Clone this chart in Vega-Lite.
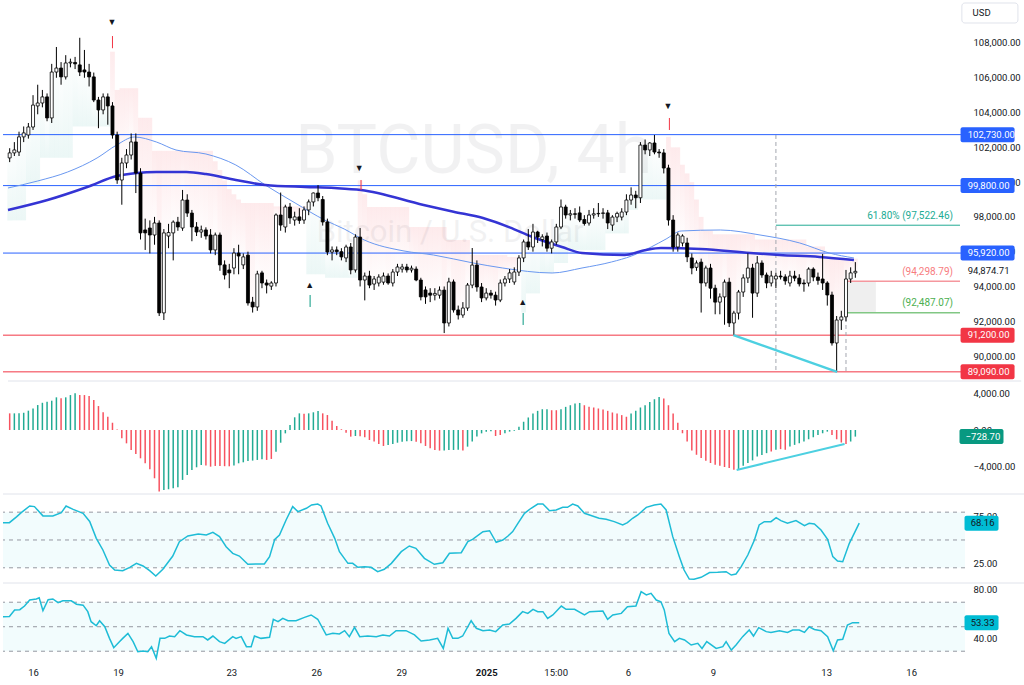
{
"$schema":"https://vega.github.io/schema/vega-lite/v6.json",
"padding":0,"background":"#ffffff","spacing":0,"bounds":"flush",
"config":{"font":"Roboto","view":{"stroke":null},"axis":{"grid":false,"ticks":false,"domain":false,"labelFont":"Roboto","labelFontSize":9.5,"labelColor":"#131722","labelOverlap":false,"labelFlush":false,"title":null},"text":{"font":"Roboto"}},
"datasets":{
"c":[
{"i":0,"o":101390,"h":101950,"l":101150,"c":101680,"s":97800,"m":1835,"u":0},
{"i":1,"o":101680,"h":102300,"l":101500,"c":101850,"s":97800,"m":1835,"u":1},
{"i":2,"o":101730,"h":102900,"l":101500,"c":102600,"s":97800,"m":1835,"u":1},
{"i":3,"o":102600,"h":103200,"l":102300,"c":102830,"s":97800,"m":1900,"u":1},
{"i":4,"o":102710,"h":103400,"l":102500,"c":103170,"s":99900,"m":2130,"u":1},
{"i":5,"o":103170,"h":105000,"l":103000,"c":104430,"s":99900,"m":2380,"u":1},
{"i":6,"o":104380,"h":105600,"l":103900,"c":104550,"s":99900,"m":2750,"u":1},
{"i":7,"o":104550,"h":105300,"l":104300,"c":104900,"s":101400,"m":3000,"u":1},
{"i":8,"o":104900,"h":105100,"l":103500,"c":103690,"s":101400,"m":3120,"u":1},
{"i":9,"o":103690,"h":106800,"l":103400,"c":106330,"s":101400,"m":3230,"u":1},
{"i":10,"o":106330,"h":107770,"l":106000,"c":106560,"s":101400,"m":3600,"u":1},
{"i":11,"o":106560,"h":106900,"l":105600,"c":106050,"s":101400,"m":3490,"u":0},
{"i":12,"o":106050,"h":107300,"l":105900,"c":106850,"s":101400,"m":3600,"u":1},
{"i":13,"o":106850,"h":107100,"l":106600,"c":106900,"s":101400,"m":3850,"u":1},
{"i":14,"o":106880,"h":107200,"l":106500,"c":106800,"s":103200,"m":4040,"u":1},
{"i":15,"o":106740,"h":108300,"l":106100,"c":106330,"s":103200,"m":3850,"u":0},
{"i":16,"o":106450,"h":107600,"l":106000,"c":106330,"s":103200,"m":3850,"u":0},
{"i":17,"o":106330,"h":106800,"l":105500,"c":106050,"s":103200,"m":3750,"u":0},
{"i":18,"o":106050,"h":106300,"l":104600,"c":104720,"s":103200,"m":3300,"u":0},
{"i":19,"o":104720,"h":104900,"l":103100,"c":104150,"s":103200,"m":2640,"u":0},
{"i":20,"o":104150,"h":105100,"l":103900,"c":104900,"s":103200,"m":1950,"u":0},
{"i":21,"o":104900,"h":105100,"l":103300,"c":104380,"s":103200,"m":1470,"u":0},
{"i":22,"o":104380,"h":104600,"l":102500,"c":102710,"s":107500,"m":800,"u":0},
{"i":23,"o":102710,"h":102900,"l":99900,"c":100120,"s":105300,"m":60,"u":0},
{"i":24,"o":100120,"h":101400,"l":98700,"c":101100,"s":105400,"m":-920,"u":0},
{"i":25,"o":101100,"h":101900,"l":100800,"c":101560,"s":105400,"m":-1470,"u":0},
{"i":26,"o":101560,"h":102800,"l":101300,"c":102310,"s":105400,"m":-2200,"u":0},
{"i":27,"o":102310,"h":102800,"l":99370,"c":100520,"s":105400,"m":-2640,"u":0},
{"i":28,"o":100520,"h":100800,"l":96700,"c":97080,"s":103700,"m":-3120,"u":0},
{"i":29,"o":97250,"h":97900,"l":96100,"c":97080,"s":103700,"m":-3670,"u":0},
{"i":30,"o":97360,"h":97800,"l":95900,"c":96960,"s":103700,"m":-4330,"u":0},
{"i":31,"o":96960,"h":98000,"l":96400,"c":97650,"s":101800,"m":-5320,"u":0},
{"i":32,"o":97650,"h":97800,"l":92300,"c":92480,"s":101800,"m":-6790,"u":0},
{"i":33,"o":92480,"h":97300,"l":92070,"c":97080,"s":101800,"m":-6600,"u":1},
{"i":34,"o":96900,"h":97600,"l":96200,"c":97100,"s":101800,"m":-6530,"u":1},
{"i":35,"o":97080,"h":97800,"l":95500,"c":97700,"s":101800,"m":-6420,"u":1},
{"i":36,"o":97700,"h":98000,"l":97200,"c":97420,"s":101800,"m":-6310,"u":1},
{"i":37,"o":97360,"h":99550,"l":97200,"c":98970,"s":101800,"m":-5500,"u":1},
{"i":38,"o":98970,"h":99300,"l":98000,"c":98220,"s":101800,"m":-4950,"u":1},
{"i":39,"o":98220,"h":98400,"l":96600,"c":97420,"s":101800,"m":-4400,"u":1},
{"i":40,"o":97420,"h":97700,"l":96900,"c":97130,"s":101800,"m":-4110,"u":1},
{"i":41,"o":97130,"h":97500,"l":96800,"c":97250,"s":101800,"m":-3850,"u":1},
{"i":42,"o":97250,"h":97400,"l":96700,"c":96900,"s":101800,"m":-3900,"u":0},
{"i":43,"o":96960,"h":97300,"l":95900,"c":96100,"s":101800,"m":-4040,"u":0},
{"i":44,"o":96100,"h":97100,"l":95800,"c":96960,"s":101200,"m":-3960,"u":0},
{"i":45,"o":96960,"h":97100,"l":94900,"c":95240,"s":100700,"m":-3960,"u":0},
{"i":46,"o":95240,"h":95500,"l":94400,"c":94660,"s":100100,"m":-3990,"u":0},
{"i":47,"o":94950,"h":95300,"l":93900,"c":94780,"s":99600,"m":-4000,"u":0},
{"i":48,"o":95060,"h":96200,"l":94700,"c":95920,"s":99300,"m":-3900,"u":1},
{"i":49,"o":95920,"h":96400,"l":94700,"c":95750,"s":99000,"m":-3670,"u":1},
{"i":50,"o":95240,"h":95900,"l":95000,"c":95700,"s":98800,"m":-3560,"u":1},
{"i":51,"o":95800,"h":96000,"l":92900,"c":93050,"s":98800,"m":-3410,"u":1},
{"i":52,"o":93100,"h":93400,"l":92500,"c":92820,"s":98800,"m":-3370,"u":1},
{"i":53,"o":92820,"h":94900,"l":92600,"c":94720,"s":98800,"m":-3300,"u":1},
{"i":54,"o":94780,"h":94900,"l":93900,"c":94200,"s":98800,"m":-3230,"u":1},
{"i":55,"o":94200,"h":94400,"l":93600,"c":94080,"s":98800,"m":-3300,"u":0},
{"i":56,"o":94020,"h":94300,"l":93800,"c":94200,"s":98800,"m":-3190,"u":0},
{"i":57,"o":94200,"h":98200,"l":94000,"c":98110,"s":98600,"m":-2390,"u":1},
{"i":58,"o":98110,"h":99400,"l":97200,"c":97530,"s":98600,"m":-1400,"u":1},
{"i":59,"o":97420,"h":98700,"l":97100,"c":98570,"s":98600,"m":-370,"u":1},
{"i":60,"o":98570,"h":98800,"l":97600,"c":97940,"s":98600,"m":550,"u":1},
{"i":61,"o":97820,"h":98300,"l":97500,"c":98000,"s":98600,"m":1400,"u":1},
{"i":62,"o":98000,"h":98500,"l":97600,"c":97800,"s":98600,"m":1835,"u":1},
{"i":63,"o":97820,"h":98600,"l":97600,"c":98400,"s":98600,"m":1800,"u":0},
{"i":64,"o":98400,"h":99000,"l":98100,"c":98860,"s":94700,"m":1835,"u":1},
{"i":65,"o":98860,"h":99400,"l":98600,"c":99375,"s":94700,"m":1950,"u":1},
{"i":66,"o":99375,"h":99830,"l":98900,"c":99100,"s":94700,"m":2090,"u":1},
{"i":67,"o":99000,"h":99200,"l":97500,"c":97710,"s":94700,"m":1835,"u":0},
{"i":68,"o":97710,"h":97900,"l":95800,"c":95980,"s":94500,"m":1650,"u":0},
{"i":69,"o":95980,"h":96300,"l":95500,"c":96100,"s":94500,"m":1030,"u":0},
{"i":70,"o":96100,"h":96300,"l":95800,"c":96000,"s":94500,"m":440,"u":0},
{"i":71,"o":96000,"h":96200,"l":95500,"c":95700,"s":94500,"m":80,"u":0},
{"i":72,"o":95640,"h":96400,"l":95400,"c":96270,"s":94500,"m":-290,"u":0},
{"i":73,"o":96270,"h":96500,"l":94700,"c":94950,"s":94500,"m":-730,"u":0},
{"i":74,"o":94950,"h":97000,"l":94800,"c":96840,"s":94500,"m":-660,"u":1},
{"i":75,"o":96840,"h":97360,"l":94000,"c":94370,"s":100100,"m":-700,"u":0},
{"i":76,"o":94370,"h":94800,"l":93200,"c":94600,"s":99300,"m":-810,"u":0},
{"i":77,"o":94600,"h":94900,"l":93900,"c":94080,"s":98570,"m":-1100,"u":0},
{"i":78,"o":94140,"h":94600,"l":93800,"c":94430,"s":98570,"m":-1280,"u":0},
{"i":79,"o":94200,"h":94700,"l":94000,"c":94540,"s":98570,"m":-1540,"u":0},
{"i":80,"o":94250,"h":94800,"l":94100,"c":94600,"s":98570,"m":-1760,"u":0},
{"i":81,"o":94600,"h":94750,"l":94100,"c":94200,"s":98570,"m":-1650,"u":1},
{"i":82,"o":94200,"h":95000,"l":94000,"c":94830,"s":98570,"m":-1540,"u":1},
{"i":83,"o":94830,"h":95300,"l":94600,"c":95120,"s":98570,"m":-1400,"u":1},
{"i":84,"o":95000,"h":95300,"l":94800,"c":95120,"s":98570,"m":-1300,"u":1},
{"i":85,"o":95120,"h":95300,"l":94800,"c":94950,"s":98570,"m":-1250,"u":1},
{"i":86,"o":94950,"h":95200,"l":94800,"c":95050,"s":97420,"m":-1220,"u":1},
{"i":87,"o":95000,"h":95150,"l":94300,"c":94370,"s":97420,"m":-1300,"u":0},
{"i":88,"o":94370,"h":94500,"l":93200,"c":93400,"s":97420,"m":-1470,"u":0},
{"i":89,"o":93800,"h":94000,"l":93000,"c":93400,"s":97420,"m":-1760,"u":0},
{"i":90,"o":93620,"h":93900,"l":93100,"c":93500,"s":97420,"m":-2020,"u":0},
{"i":91,"o":93500,"h":93900,"l":93200,"c":93600,"s":97420,"m":-2200,"u":0},
{"i":92,"o":93500,"h":94000,"l":93300,"c":93790,"s":97420,"m":-2270,"u":0},
{"i":93,"o":93790,"h":94000,"l":91320,"c":91900,"s":97420,"m":-2250,"u":1},
{"i":94,"o":91900,"h":94500,"l":91700,"c":94260,"s":96670,"m":-2200,"u":1},
{"i":95,"o":94260,"h":94400,"l":92500,"c":92650,"s":96670,"m":-2200,"u":1},
{"i":96,"o":92650,"h":92900,"l":92100,"c":92360,"s":96670,"m":-2180,"u":1},
{"i":97,"o":92360,"h":93100,"l":92200,"c":92760,"s":96670,"m":-2250,"u":0},
{"i":98,"o":92760,"h":94200,"l":92600,"c":94080,"s":96670,"m":-1835,"u":1},
{"i":99,"o":94080,"h":96210,"l":93900,"c":95230,"s":95810,"m":-1280,"u":1},
{"i":100,"o":95230,"h":95500,"l":93700,"c":93970,"s":95810,"m":-730,"u":1},
{"i":101,"o":93970,"h":94200,"l":93100,"c":93340,"s":95810,"m":-370,"u":1},
{"i":102,"o":93340,"h":93900,"l":93200,"c":93620,"s":95810,"m":-180,"u":1},
{"i":103,"o":93620,"h":93800,"l":93300,"c":93500,"s":95810,"m":-150,"u":1},
{"i":104,"o":93500,"h":93700,"l":92900,"c":93220,"s":95810,"m":-660,"u":0},
{"i":105,"o":93220,"h":94400,"l":93100,"c":94200,"s":95810,"m":-550,"u":0},
{"i":106,"o":94200,"h":94600,"l":94000,"c":94430,"s":95810,"m":-370,"u":1},
{"i":107,"o":94430,"h":95000,"l":94200,"c":94780,"s":95700,"m":-180,"u":1},
{"i":108,"o":94260,"h":95100,"l":94100,"c":94830,"s":95700,"m":-70,"u":1},
{"i":109,"o":94830,"h":95800,"l":94600,"c":95640,"s":95700,"m":360,"u":1},
{"i":110,"o":95640,"h":96700,"l":95400,"c":96560,"s":92500,"m":910,"u":1},
{"i":111,"o":96560,"h":97300,"l":96100,"c":96270,"s":93600,"m":1380,"u":1},
{"i":112,"o":96270,"h":97600,"l":96000,"c":97130,"s":93600,"m":1820,"u":1},
{"i":113,"o":97130,"h":97200,"l":96500,"c":96840,"s":93600,"m":2110,"u":1},
{"i":114,"o":96700,"h":97000,"l":96300,"c":96850,"s":94770,"m":2290,"u":1},
{"i":115,"o":96900,"h":97100,"l":96000,"c":96200,"s":94770,"m":2300,"u":1},
{"i":116,"o":96200,"h":96700,"l":95900,"c":96560,"s":94770,"m":2180,"u":0},
{"i":117,"o":96560,"h":97600,"l":96400,"c":97420,"s":95350,"m":2180,"u":0},
{"i":118,"o":97420,"h":99000,"l":97300,"c":98570,"s":95350,"m":2290,"u":1},
{"i":119,"o":98570,"h":98700,"l":97900,"c":98110,"s":95350,"m":2550,"u":1},
{"i":120,"o":98110,"h":98400,"l":97800,"c":98180,"s":96100,"m":2730,"u":1},
{"i":121,"o":98180,"h":98500,"l":97900,"c":98150,"s":96100,"m":2910,"u":1},
{"i":122,"o":98230,"h":98600,"l":97700,"c":97820,"s":96100,"m":2980,"u":1},
{"i":123,"o":97850,"h":98100,"l":97500,"c":97620,"s":96100,"m":2730,"u":0},
{"i":124,"o":97650,"h":98400,"l":97500,"c":98110,"s":96100,"m":2550,"u":0},
{"i":125,"o":98110,"h":98500,"l":97900,"c":98180,"s":96100,"m":2480,"u":0},
{"i":126,"o":98180,"h":98800,"l":98000,"c":98200,"s":96100,"m":2370,"u":0},
{"i":127,"o":98200,"h":98500,"l":97900,"c":98230,"s":96100,"m":2260,"u":0},
{"i":128,"o":98230,"h":98400,"l":97300,"c":97650,"s":97050,"m":2110,"u":0},
{"i":129,"o":97530,"h":98100,"l":97200,"c":97990,"s":97050,"m":1930,"u":0},
{"i":130,"o":97990,"h":98300,"l":97700,"c":98200,"s":97050,"m":1820,"u":0},
{"i":131,"o":97990,"h":98500,"l":97800,"c":98280,"s":97050,"m":1640,"u":0},
{"i":132,"o":98280,"h":99300,"l":98100,"c":98970,"s":97050,"m":1460,"u":0},
{"i":133,"o":98970,"h":99700,"l":98700,"c":99260,"s":98400,"m":1820,"u":1},
{"i":134,"o":99260,"h":99500,"l":98500,"c":99100,"s":98400,"m":2110,"u":1},
{"i":135,"o":99100,"h":102300,"l":98800,"c":102130,"s":99000,"m":2480,"u":1},
{"i":136,"o":102130,"h":102450,"l":101600,"c":101850,"s":99000,"m":2730,"u":1},
{"i":137,"o":101850,"h":102300,"l":101500,"c":102250,"s":99000,"m":3090,"u":1},
{"i":138,"o":102250,"h":102710,"l":101600,"c":101730,"s":99000,"m":3390,"u":1},
{"i":139,"o":101730,"h":101900,"l":101400,"c":101680,"s":99000,"m":3640,"u":1},
{"i":140,"o":101680,"h":101900,"l":100500,"c":100810,"s":99000,"m":3460,"u":0},
{"i":141,"o":100810,"h":101000,"l":97500,"c":97820,"s":102600,"m":2730,"u":0},
{"i":142,"o":97820,"h":98100,"l":96000,"c":96270,"s":102000,"m":1820,"u":0},
{"i":143,"o":96270,"h":97100,"l":96000,"c":96960,"s":102000,"m":800,"u":0},
{"i":144,"o":96500,"h":97000,"l":96300,"c":96900,"s":101000,"m":-360,"u":0},
{"i":145,"o":96500,"h":96800,"l":95400,"c":95700,"s":100500,"m":-1270,"u":0},
{"i":146,"o":95640,"h":95900,"l":94700,"c":95060,"s":100000,"m":-2260,"u":0},
{"i":147,"o":95100,"h":95500,"l":94900,"c":95350,"s":99000,"m":-2730,"u":0},
{"i":148,"o":95400,"h":95600,"l":92500,"c":94200,"s":98000,"m":-3090,"u":0},
{"i":149,"o":94200,"h":95200,"l":94000,"c":95060,"s":97200,"m":-3390,"u":0},
{"i":150,"o":95060,"h":95300,"l":93300,"c":93900,"s":97200,"m":-3640,"u":0},
{"i":151,"o":93900,"h":94100,"l":92400,"c":93100,"s":97000,"m":-3820,"u":0},
{"i":152,"o":93100,"h":93600,"l":92400,"c":93400,"s":97000,"m":-3930,"u":0},
{"i":153,"o":93400,"h":94400,"l":91800,"c":94250,"s":97000,"m":-4080,"u":0},
{"i":154,"o":94250,"h":94500,"l":91670,"c":91900,"s":97000,"m":-4190,"u":0},
{"i":155,"o":91900,"h":92600,"l":91210,"c":92470,"s":97000,"m":-4370,"u":0},
{"i":156,"o":92470,"h":93800,"l":92100,"c":93680,"s":97000,"m":-4300,"u":1},
{"i":157,"o":93680,"h":94700,"l":93400,"c":94490,"s":97000,"m":-3930,"u":1},
{"i":158,"o":94490,"h":95900,"l":94200,"c":95060,"s":97000,"m":-3640,"u":1},
{"i":159,"o":95060,"h":95300,"l":92200,"c":93620,"s":97000,"m":-3350,"u":1},
{"i":160,"o":93620,"h":95750,"l":93400,"c":95350,"s":96700,"m":-2910,"u":1},
{"i":161,"o":95350,"h":95500,"l":94500,"c":94660,"s":96700,"m":-2750,"u":1},
{"i":162,"o":94660,"h":94800,"l":93900,"c":94200,"s":96700,"m":-2550,"u":1},
{"i":163,"o":94200,"h":94900,"l":94000,"c":94600,"s":96700,"m":-2370,"u":0},
{"i":164,"o":94430,"h":94800,"l":93900,"c":94600,"s":96700,"m":-2180,"u":1},
{"i":165,"o":94600,"h":94900,"l":94400,"c":94550,"s":96700,"m":-2110,"u":0},
{"i":166,"o":94550,"h":94700,"l":94100,"c":94320,"s":96700,"m":-2180,"u":0},
{"i":167,"o":94200,"h":94900,"l":94000,"c":94600,"s":96700,"m":-1820,"u":1},
{"i":168,"o":94600,"h":94900,"l":94300,"c":94480,"s":96700,"m":-1640,"u":1},
{"i":169,"o":94480,"h":94700,"l":94000,"c":94150,"s":96700,"m":-1460,"u":1},
{"i":170,"o":94200,"h":94400,"l":93700,"c":94150,"s":96700,"m":-1270,"u":1},
{"i":171,"o":94200,"h":95100,"l":94000,"c":95000,"s":96300,"m":-1020,"u":1},
{"i":172,"o":95000,"h":95100,"l":94300,"c":94540,"s":96300,"m":-800,"u":1},
{"i":173,"o":94540,"h":94800,"l":94100,"c":94350,"s":96300,"m":-550,"u":1},
{"i":174,"o":94430,"h":95870,"l":93800,"c":94200,"s":96300,"m":-360,"u":1},
{"i":175,"o":94200,"h":94300,"l":92900,"c":93510,"s":95600,"m":-180,"u":1},
{"i":176,"o":93510,"h":93700,"l":90600,"c":90750,"s":95600,"m":-550,"u":0},
{"i":177,"o":90750,"h":92300,"l":89090,"c":92070,"s":95600,"m":-1020,"u":0},
{"i":178,"o":92070,"h":92600,"l":91500,"c":92250,"s":95600,"m":-1380,"u":0},
{"i":179,"o":92250,"h":94950,"l":92000,"c":94430,"s":95600,"m":-1530,"u":0},
{"i":180,"o":94430,"h":95100,"l":94200,"c":94780,"s":95600,"m":-1270,"u":1},
{"i":181,"o":94780,"h":95400,"l":94500,"c":94870,"s":95600,"m":-729,"u":1}
],
"mf":[{"i":-0.36,"p":99662},{"i":6,"p":100065},{"i":12.4,"p":100582},{"i":18.7,"p":101387},{"i":22.9,"p":102135},{"i":26.7,"p":102595},{"i":31.4,"p":102307},{"i":35.6,"p":101847},{"i":42,"p":101617},{"i":48.4,"p":100985},{"i":54.7,"p":99835},{"i":61.1,"p":98800},{"i":67.4,"p":97822},{"i":71.6,"p":97305},{"i":75.9,"p":96672},{"i":84.4,"p":96040},{"i":90.7,"p":95810},{"i":99.2,"p":95350},{"i":105.5,"p":95062},{"i":116.1,"p":94775},{"i":122.5,"p":95062},{"i":128.8,"p":95407},{"i":133.1,"p":95752},{"i":137.3,"p":96270},{"i":140.5,"p":96730},{"i":143.7,"p":97190},{"i":152.1,"p":97247},{"i":160.6,"p":96960},{"i":169.1,"p":96500},{"i":175.4,"p":95925},{"i":180.7,"p":95637}],
"ms":[{"i":-0.36,"p":98397},{"i":8.1,"p":98972},{"i":16.6,"p":99720},{"i":22.9,"p":100350},{"i":27.2,"p":100525},{"i":31.4,"p":100582},{"i":37.8,"p":100582},{"i":42,"p":100467},{"i":48.4,"p":100122},{"i":54.7,"p":99835},{"i":63.2,"p":99720},{"i":69.5,"p":99662},{"i":75.2,"p":99547},{"i":88.6,"p":98685},{"i":95,"p":98300},{"i":101.3,"p":97937},{"i":107,"p":97400},{"i":111.9,"p":96845},{"i":118.2,"p":96270},{"i":122.5,"p":95925},{"i":131.6,"p":95810},{"i":136.2,"p":96100},{"i":139.4,"p":96212},{"i":147.9,"p":96155},{"i":158.5,"p":95925},{"i":164.8,"p":95810},{"i":173.3,"p":95695},{"i":180.7,"p":95522}],
"lv":[{"p":102730,"k":"b"},{"p":99800,"k":"b"},{"p":95920,"k":"b"},{"p":91200,"k":"r"},{"p":89090,"k":"r"}],
"mk":[{"i":21.9,"p":109207,"t":"▼"},{"i":74.8,"p":100812,"t":"▼"},{"i":140.9,"p":104377,"t":"▼"},{"i":64.2,"p":94085,"t":"▲"},{"i":109.8,"p":93107,"t":"▲"}],
"tk":[{"i":22,"a":108400,"b":107700,"k":"r"},{"i":75.2,"a":100122,"b":99547,"k":"r"},{"i":141.2,"a":103687,"b":102997,"k":"r"},{"i":64.3,"a":93510,"b":92820,"k":"g"},{"i":109.9,"a":92475,"b":91785,"k":"g"}],
"k":[{"i":-0.36,"v":68.7},{"i":1,"v":68.7},{"i":2.5,"v":75},{"i":3.5,"v":79.5},{"i":5.3,"v":86.7},{"i":6.3,"v":86},{"i":8.1,"v":76},{"i":10.2,"v":76},{"i":12,"v":79.5},{"i":13,"v":86.7},{"i":14.5,"v":83},{"i":16.6,"v":78.8},{"i":18,"v":70},{"i":19.4,"v":51.8},{"i":20.8,"v":39.2},{"i":22.2,"v":23},{"i":23.3,"v":17.6},{"i":25,"v":16.9},{"i":26.5,"v":20.5},{"i":27.9,"v":24.8},{"i":29.3,"v":22},{"i":30.7,"v":16.9},{"i":32,"v":11.2},{"i":33.5,"v":18.4},{"i":35.6,"v":32.7},{"i":37,"v":48.2},{"i":38.8,"v":54.3},{"i":41,"v":56.5},{"i":42.7,"v":55.4},{"i":44.1,"v":58.3},{"i":45.5,"v":53.6},{"i":46.9,"v":42.8},{"i":48.3,"v":35.6},{"i":49.7,"v":32.7},{"i":51.5,"v":23.8},{"i":53.3,"v":24.1},{"i":55,"v":24.1},{"i":56.1,"v":32},{"i":57.2,"v":50.7},{"i":58.2,"v":55.4},{"i":59.6,"v":71.6},{"i":61,"v":86},{"i":62.1,"v":80.6},{"i":63.9,"v":84.2},{"i":65,"v":87.8},{"i":66.3,"v":88.8},{"i":67,"v":86.7},{"i":68.4,"v":68},{"i":69.9,"v":51.8},{"i":70.9,"v":37.4},{"i":72.7,"v":24.8},{"i":73.7,"v":24.8},{"i":74.8,"v":20.5},{"i":76.2,"v":21.2},{"i":77.6,"v":20.5},{"i":79,"v":15.8},{"i":80.4,"v":18.4},{"i":81.9,"v":24.8},{"i":84,"v":37.4},{"i":85.7,"v":43.5},{"i":87.1,"v":41},{"i":88.9,"v":30.2},{"i":91,"v":23.8},{"i":92.8,"v":25.5},{"i":94.2,"v":35.6},{"i":96.7,"v":36.3},{"i":98.1,"v":48.2},{"i":99.1,"v":50.7},{"i":101.3,"v":59},{"i":102.7,"v":60},{"i":104.1,"v":47.5},{"i":105.5,"v":50},{"i":106.6,"v":54.3},{"i":107.6,"v":59},{"i":108.7,"v":68},{"i":110.1,"v":78.8},{"i":111.5,"v":84.2},{"i":112.9,"v":88.8},{"i":114,"v":88.8},{"i":115.4,"v":81.6},{"i":116.8,"v":82.4},{"i":118.2,"v":85.2},{"i":119.2,"v":85.2},{"i":120.3,"v":88.8},{"i":121.4,"v":86.7},{"i":122.8,"v":78.8},{"i":124.5,"v":75.9},{"i":125.9,"v":73.4},{"i":127.4,"v":72.3},{"i":129.1,"v":69.8},{"i":130.9,"v":66.2},{"i":131.9,"v":68.7},{"i":133,"v":73.4},{"i":134.1,"v":77},{"i":135.9,"v":85.2},{"i":137.6,"v":87.8},{"i":139,"v":88.8},{"i":140.1,"v":82.4},{"i":141.5,"v":53.6},{"i":142.9,"v":32},{"i":143.9,"v":17.6},{"i":145,"v":7.9},{"i":146,"v":7.6},{"i":147.5,"v":9.7},{"i":149.3,"v":14.8},{"i":151,"v":15.1},{"i":152.8,"v":15.8},{"i":153.9,"v":12.2},{"i":154.9,"v":13.3},{"i":156,"v":21.2},{"i":157.4,"v":33.8},{"i":158.8,"v":50},{"i":159.8,"v":66.2},{"i":160.9,"v":69.8},{"i":162.3,"v":69.8},{"i":163.4,"v":74.1},{"i":164.4,"v":70.9},{"i":165.8,"v":68},{"i":167.6,"v":70.9},{"i":169.4,"v":65.5},{"i":170.4,"v":68},{"i":171.5,"v":67.3},{"i":172.9,"v":60.8},{"i":174.3,"v":50.7},{"i":175.4,"v":32},{"i":176.4,"v":27.3},{"i":177.5,"v":26.6},{"i":178.9,"v":46.4},{"i":181,"v":68.16}],
"r":[{"i":-0.36,"v":58.2},{"i":1,"v":58.4},{"i":2.1,"v":63.7},{"i":3.2,"v":63.9},{"i":4.2,"v":66.9},{"i":5.3,"v":71.8},{"i":6.7,"v":72.7},{"i":7.3,"v":73.6},{"i":8.1,"v":63.1},{"i":9.2,"v":72.1},{"i":10.2,"v":72.7},{"i":11.3,"v":69.6},{"i":12.3,"v":71.2},{"i":14.1,"v":71.2},{"i":15.2,"v":68.4},{"i":16.6,"v":67.6},{"i":17.6,"v":62.3},{"i":18.3,"v":54.1},{"i":19.4,"v":50.8},{"i":20.1,"v":54.9},{"i":21.2,"v":50},{"i":22.2,"v":40.5},{"i":23.1,"v":32.9},{"i":24.3,"v":37.8},{"i":25,"v":40.5},{"i":26.1,"v":44.6},{"i":27.2,"v":37.8},{"i":28.2,"v":29.6},{"i":29.3,"v":30.1},{"i":30.3,"v":29.6},{"i":31.1,"v":33.7},{"i":32.1,"v":24.2},{"i":32.9,"v":40.5},{"i":33.9,"v":40.5},{"i":34.9,"v":42.4},{"i":36,"v":41.9},{"i":37.1,"v":46.8},{"i":38.5,"v":43.3},{"i":40.2,"v":41.9},{"i":42,"v":41.9},{"i":43,"v":39.2},{"i":44.1,"v":42.4},{"i":45.5,"v":37.8},{"i":46.6,"v":36.4},{"i":48.3,"v":41.9},{"i":49,"v":40.5},{"i":50.1,"v":41.9},{"i":51.2,"v":33.7},{"i":52.2,"v":33.7},{"i":52.9,"v":42.4},{"i":54.3,"v":40.5},{"i":56.1,"v":41.4},{"i":56.9,"v":56.1},{"i":57.9,"v":54.1},{"i":58.9,"v":56.8},{"i":60,"v":54.9},{"i":61.7,"v":54.9},{"i":63.5,"v":57.6},{"i":64.9,"v":59.6},{"i":66.3,"v":56.1},{"i":68.1,"v":43.3},{"i":69.5,"v":44.6},{"i":70.9,"v":44.1},{"i":72,"v":46.8},{"i":73,"v":41.9},{"i":74.1,"v":49.5},{"i":75.2,"v":41.9},{"i":76.9,"v":42.4},{"i":78.7,"v":41.9},{"i":80.1,"v":43.3},{"i":81.5,"v":42.4},{"i":82.9,"v":46.8},{"i":85,"v":46.8},{"i":86.8,"v":43.3},{"i":88.2,"v":38.4},{"i":90,"v":39.2},{"i":91.7,"v":40.5},{"i":92.9,"v":32.3},{"i":93.9,"v":48.7},{"i":94.9,"v":40.5},{"i":96,"v":40.5},{"i":97,"v":42.4},{"i":98.8,"v":54.9},{"i":99.9,"v":48.7},{"i":101.3,"v":46.8},{"i":102.7,"v":47.3},{"i":104,"v":46},{"i":105.5,"v":51.4},{"i":106.9,"v":52.2},{"i":108.3,"v":56.8},{"i":109.7,"v":62.3},{"i":110.8,"v":60.9},{"i":111.9,"v":64.2},{"i":112.9,"v":62.3},{"i":114,"v":62.3},{"i":115,"v":56.8},{"i":116.1,"v":59.6},{"i":117.9,"v":66.9},{"i":118.9,"v":64.2},{"i":120.7,"v":64.2},{"i":122.8,"v":59.6},{"i":123.9,"v":62.3},{"i":126.7,"v":62.8},{"i":127.7,"v":56.1},{"i":128.8,"v":59.6},{"i":130.6,"v":60.9},{"i":131.9,"v":66.3},{"i":133.7,"v":66.9},{"i":134.8,"v":78.6},{"i":135.9,"v":75.9},{"i":136.9,"v":77.3},{"i":138,"v":71.8},{"i":139,"v":70.4},{"i":139.7,"v":63.7},{"i":140.7,"v":44.6},{"i":141.9,"v":37.8},{"i":142.9,"v":40.5},{"i":144,"v":39.2},{"i":145.4,"v":35.1},{"i":146.8,"v":36.4},{"i":147.7,"v":32.3},{"i":148.7,"v":37.8},{"i":150.7,"v":32.3},{"i":152.1,"v":33.7},{"i":152.8,"v":37.8},{"i":153.9,"v":30.9},{"i":154.9,"v":35.1},{"i":156.3,"v":41.9},{"i":157.7,"v":47.3},{"i":158.6,"v":42.4},{"i":159.7,"v":49.2},{"i":161.3,"v":46},{"i":162.3,"v":45.2},{"i":164.1,"v":46.8},{"i":165.8,"v":45.4},{"i":166.9,"v":47.3},{"i":168.3,"v":47.3},{"i":169.4,"v":45.4},{"i":170.4,"v":50},{"i":171.5,"v":47.8},{"i":172.9,"v":46.8},{"i":174.3,"v":41.9},{"i":175.5,"v":30.4},{"i":176.4,"v":39.2},{"i":177.5,"v":39.7},{"i":178.5,"v":51.4},{"i":179.6,"v":53.3},{"i":181,"v":53.33}]
},
"vconcat":[
{"width":962,"height":381,
"layer":[
{"data":{"values":[{}]},"mark":{"type":"text","fontSize":68,"fill":"#131722","opacity":0.055,"align":"left","baseline":"alphabetic"},
 "encoding":{"x":{"datum":61.1,"type":"quantitative","scale":{"domain":[-0.36,203.4],"nice":false,"zero":false},"axis":null},"y":{"datum":100525,"type":"quantitative","scale":{"domain":[88564,110472],"nice":false,"zero":false},"axis":{"orient":"right","values":[90000,92000,94000,96000,98000,100000,102000,104000,106000,108000],"format":",.2f","labelPadding":8}},"text":{"value":"BTCUSD, 4h"}}},
{"data":{"values":[{}]},"mark":{"type":"text","fontSize":31,"fill":"#131722","opacity":0.055,"align":"left","baseline":"alphabetic"},
 "encoding":{"x":{"datum":65.7,"type":"quantitative"},"y":{"datum":96557,"type":"quantitative"},"text":{"value":"Bitcoin / U.S. Dollar"}}},
{"data":{"name":"c"},"transform":[{"filter":"datum.s>datum.c"}],"mark":{"type":"bar","orient":"vertical","size":4.75,"fill":{"gradient":"linear","x1":0,"y1":0,"x2":0,"y2":1,"stops":[{"offset":0,"color":"rgba(242,54,69,0.10)"},{"offset":1,"color":"rgba(242,54,69,0.01)"}]}},
 "encoding":{"x":{"field":"i","type":"quantitative"},"y":{"field":"s","type":"quantitative"},"y2":{"field":"c"}}},
{"data":{"name":"c"},"transform":[{"filter":"datum.s<=datum.c"}],"mark":{"type":"bar","orient":"vertical","size":4.75,"fill":{"gradient":"linear","x1":0,"y1":0,"x2":0,"y2":1,"stops":[{"offset":0,"color":"rgba(38,166,154,0.01)"},{"offset":1,"color":"rgba(38,166,154,0.09)"}]}},
 "encoding":{"x":{"field":"i","type":"quantitative"},"y":{"field":"c","type":"quantitative"},"y2":{"field":"s"}}},
{"data":{"name":"lv"},"mark":{"type":"rule","strokeWidth":1},
 "encoding":{"y":{"field":"p","type":"quantitative"},"color":{"condition":{"test":"datum.k=='b'","value":"#2962ff"},"value":"#f23645"}}},
{"data":{"values":[{}]},"mark":{"type":"rect","fill":"#e9e9e9","opacity":0.75},
 "encoding":{"x":{"datum":179,"type":"quantitative"},"x2":{"datum":185.4},"y":{"datum":94298.79,"type":"quantitative"},"y2":{"datum":92487.07}}},
{"data":{"values":[{}]},"mark":{"type":"rule","stroke":"#22ab94","strokeWidth":1},
 "encoding":{"x":{"datum":164,"type":"quantitative"},"x2":{"datum":203.4},"y":{"datum":97522.46,"type":"quantitative"}}},
{"data":{"values":[{}]},"mark":{"type":"rule","stroke":"#f5979e","strokeWidth":1.5},
 "encoding":{"x":{"datum":179,"type":"quantitative"},"x2":{"datum":203.4},"y":{"datum":94298.79,"type":"quantitative"}}},
{"data":{"values":[{}]},"mark":{"type":"rule","stroke":"#81c784","strokeWidth":1.5},
 "encoding":{"x":{"datum":179,"type":"quantitative"},"x2":{"datum":203.4},"y":{"datum":92487.07,"type":"quantitative"}}},
{"data":{"values":[{}]},"mark":{"type":"rule","stroke":"#a3a6af","strokeWidth":1,"strokeDash":[4,3]},
 "encoding":{"x":{"datum":164,"type":"quantitative"},"y":{"datum":102710,"type":"quantitative"},"y2":{"datum":89025}}},
{"data":{"values":[{}]},"mark":{"type":"rule","stroke":"#a3a6af","strokeWidth":1,"strokeDash":[4,3]},
 "encoding":{"x":{"datum":179,"type":"quantitative"},"y":{"datum":94200,"type":"quantitative"},"y2":{"datum":89025}}},
{"data":{"name":"mf"},"mark":{"type":"line","interpolate":"monotone","stroke":"#6a98f0","strokeWidth":1},
 "encoding":{"x":{"field":"i","type":"quantitative"},"y":{"field":"p","type":"quantitative"}}},
{"data":{"name":"ms"},"mark":{"type":"line","interpolate":"monotone","stroke":"#3434d4","strokeWidth":2.5},
 "encoding":{"x":{"field":"i","type":"quantitative"},"y":{"field":"p","type":"quantitative"}}},
{"data":{"name":"c"},"mark":{"type":"rule","stroke":"#000000","strokeWidth":1},
 "encoding":{"x":{"field":"i","type":"quantitative"},"y":{"field":"l","type":"quantitative"},"y2":{"field":"h"}}},
{"data":{"name":"c"},"mark":{"type":"bar","orient":"vertical","size":3,"stroke":"#000000","strokeWidth":0.8},
 "encoding":{"x":{"field":"i","type":"quantitative"},"y":{"field":"o","type":"quantitative"},"y2":{"field":"c"},"fill":{"condition":{"test":"datum.c>=datum.o","value":"#ffffff"},"value":"#000000"}}},
{"data":{"values":[{}]},"mark":{"type":"rule","stroke":"#4dd0e1","strokeWidth":2.5},
 "encoding":{"x":{"datum":154.9,"type":"quantitative"},"x2":{"datum":177.1},"y":{"datum":91200,"type":"quantitative"},"y2":{"datum":89090}}},
{"data":{"name":"tk"},"mark":{"type":"rule","strokeWidth":1},
 "encoding":{"x":{"field":"i","type":"quantitative"},"y":{"field":"a","type":"quantitative"},"y2":{"field":"b"},"color":{"condition":{"test":"datum.k=='r'","value":"#f23645"},"value":"#089981"}}},
{"data":{"name":"mk"},"mark":{"type":"text","fontSize":9,"fill":"#131722","baseline":"middle","align":"center"},
 "encoding":{"x":{"field":"i","type":"quantitative"},"y":{"field":"p","type":"quantitative"},"text":{"field":"t"}}},
{"data":{"values":[{}]},"mark":{"type":"text","fontSize":10,"fill":"#22ab94","align":"right","baseline":"middle"},
 "encoding":{"x":{"datum":201.9,"type":"quantitative"},"y":{"datum":98052,"type":"quantitative"},"text":{"value":"61.80% (97,522.46)"}}},
{"data":{"values":[{}]},"mark":{"type":"text","fontSize":10,"fill":"#f77c80","align":"right","baseline":"middle"},
 "encoding":{"x":{"datum":201.9,"type":"quantitative"},"y":{"datum":94850,"type":"quantitative"},"text":{"value":"(94,298.79)"}}},
{"data":{"values":[{}]},"mark":{"type":"text","fontSize":10,"fill":"#4caf50","align":"right","baseline":"middle"},
 "encoding":{"x":{"datum":201.9,"type":"quantitative"},"y":{"datum":93032,"type":"quantitative"},"text":{"value":"(92,487.07)"}}},
{"data":{"values":[{}]},"mark":{"type":"text","fontSize":9.5,"fill":"#131722","align":"left","baseline":"middle"},
 "encoding":{"x":{"datum":205.06,"type":"quantitative"},"y":{"datum":94874.71,"type":"quantitative"},"text":{"value":"94,874.71"}}},
{"data":{"name":"lv"},"mark":{"type":"tick","orient":"horizontal","size":54,"thickness":15,"opacity":1,"cornerRadius":2},
 "encoding":{"x":{"datum":209.3,"type":"quantitative"},"y":{"field":"p","type":"quantitative"},"color":{"condition":{"test":"datum.k=='b'","value":"#2962ff"},"value":"#f23645"}}},
{"data":{"name":"lv"},"mark":{"type":"text","fontSize":9.5,"fill":"#ffffff","align":"left","baseline":"middle"},
 "encoding":{"x":{"datum":205.06,"type":"quantitative"},"y":{"field":"p","type":"quantitative"},"text":{"field":"p","type":"quantitative","format":",.2f"}}},
{"data":{"values":[{}]},"mark":{"type":"rect","fill":"#ffffff","stroke":"#e0e3eb","strokeWidth":1,"cornerRadius":3},
 "encoding":{"x":{"datum":203.8,"type":"quantitative"},"x2":{"datum":215.8},"y":{"datum":110300,"type":"quantitative"},"y2":{"datum":109150}}},
{"data":{"values":[{}]},"mark":{"type":"text","fontSize":9.5,"fill":"#131722","align":"left","baseline":"middle"},
 "encoding":{"x":{"datum":206.1,"type":"quantitative"},"y":{"datum":109725,"type":"quantitative"},"text":{"value":"USD"}}}
]},
{"width":962,"height":113,
"layer":[
{"data":{"values":[{}]},"mark":{"type":"rule","stroke":"#e0e3eb","strokeWidth":1},
 "encoding":{"x":{"datum":-0.36,"type":"quantitative","scale":{"domain":[-0.36,203.4],"nice":false,"zero":false},"axis":null},"x2":{"datum":216.5},"y":{"datum":5400,"type":"quantitative","scale":{"domain":[-7053,5400],"nice":false,"zero":false},"axis":{"orient":"right","values":[-4000,0,4000],"format":",.2f","labelPadding":8}}}},
{"data":{"name":"c"},"mark":{"type":"bar","orient":"vertical","size":1.5},
 "encoding":{"x":{"field":"i","type":"quantitative"},"y":{"field":"m","type":"quantitative"},"y2":{"datum":0},"color":{"condition":{"test":"datum.u==1","value":"#22ab94"},"value":"#f7525f"}}},
{"data":{"values":[{}]},"mark":{"type":"rule","stroke":"#4dd0e1","strokeWidth":2},
 "encoding":{"x":{"datum":155.6,"type":"quantitative"},"x2":{"datum":178.7},"y":{"datum":-4400,"type":"quantitative"},"y2":{"datum":-1540}}},
{"data":{"values":[{}]},"mark":{"type":"tick","orient":"horizontal","size":44,"thickness":15,"opacity":1,"cornerRadius":2,"color":"#089981"},
 "encoding":{"x":{"datum":208,"type":"quantitative"},"y":{"datum":-728.7,"type":"quantitative"}}},
{"data":{"values":[{}]},"mark":{"type":"text","fontSize":9.5,"fill":"#ffffff","align":"left","baseline":"middle"},
 "encoding":{"x":{"datum":204.6,"type":"quantitative"},"y":{"datum":-728.7,"type":"quantitative"},"text":{"value":"−728.70"}}}
]},
{"width":962,"height":89,
"layer":[
{"data":{"values":[{}]},"mark":{"type":"rect","fill":"#00bcd4","opacity":0.05},
 "encoding":{"x":{"datum":-0.36,"type":"quantitative","scale":{"domain":[-0.36,203.4],"nice":false,"zero":false},"axis":null},"x2":{"datum":203.4},"y":{"datum":80,"type":"quantitative","scale":{"domain":[3.6,99.6],"nice":false,"zero":false},"axis":{"orient":"right","values":[25,75],"format":".2f","labelPadding":8}},"y2":{"datum":20}}},
{"data":{"values":[{}]},"mark":{"type":"rule","stroke":"#e0e3eb","strokeWidth":1},
 "encoding":{"x":{"datum":-0.36,"type":"quantitative"},"x2":{"datum":216.5},"y":{"datum":99.6,"type":"quantitative"}}},
{"data":{"values":[{"v":80},{"v":50},{"v":20}]},"mark":{"type":"rule","stroke":"#9598a1","strokeWidth":1,"strokeDash":[4,4]},
 "encoding":{"y":{"field":"v","type":"quantitative"}}},
{"data":{"name":"k"},"mark":{"type":"line","stroke":"#1ebcd6","strokeWidth":1.5},
 "encoding":{"x":{"field":"i","type":"quantitative"},"y":{"field":"v","type":"quantitative"}}},
{"data":{"values":[{}]},"mark":{"type":"tick","orient":"horizontal","size":34,"thickness":15,"opacity":1,"cornerRadius":2,"color":"#00bcd4"},
 "encoding":{"x":{"datum":206.9,"type":"quantitative"},"y":{"datum":68.16,"type":"quantitative"}}},
{"data":{"values":[{}]},"mark":{"type":"text","fontSize":9.5,"fill":"#131722","align":"left","baseline":"middle"},
 "encoding":{"x":{"datum":204.6,"type":"quantitative"},"y":{"datum":68.16,"type":"quantitative"},"text":{"value":"68.16"}}}
]},
{"width":962,"height":79,
"layer":[
{"data":{"values":[{}]},"mark":{"type":"rect","fill":"#00bcd4","opacity":0.05},
 "encoding":{"x":{"datum":-0.36,"type":"quantitative","scale":{"domain":[-0.36,203.4],"nice":false,"zero":false},"axis":{"orient":"bottom","values":[6,24,48,66,84,102,116.7,132,150,174,192],"labelExpr":"['16','19','23','26','29','2025','15:00','6','9','13','16'][indexof([6,24,48,66,84,102,116.7,132,150,174,192],datum.value)]","labelPadding":5,"labelFontWeight":{"condition":{"test":"datum.value==102","value":"bold"},"value":"normal"}}},"x2":{"datum":203.4},"y":{"datum":70,"type":"quantitative","scale":{"domain":[21.2,85.7],"nice":false,"zero":false},"axis":{"orient":"right","values":[40,60,80],"format":".2f","labelPadding":8}},"y2":{"datum":30}}},
{"data":{"values":[{}]},"mark":{"type":"rule","stroke":"#e0e3eb","strokeWidth":1},
 "encoding":{"x":{"datum":-0.36,"type":"quantitative"},"x2":{"datum":216.5},"y":{"datum":85.7,"type":"quantitative"}}},
{"data":{"values":[{"v":70},{"v":50},{"v":30}]},"mark":{"type":"rule","stroke":"#9598a1","strokeWidth":1,"strokeDash":[4,4]},
 "encoding":{"y":{"field":"v","type":"quantitative"}}},
{"data":{"name":"r"},"mark":{"type":"line","stroke":"#1ebcd6","strokeWidth":1.5},
 "encoding":{"x":{"field":"i","type":"quantitative"},"y":{"field":"v","type":"quantitative"}}},
{"data":{"values":[{}]},"mark":{"type":"tick","orient":"horizontal","size":34,"thickness":15,"opacity":1,"cornerRadius":2,"color":"#00bcd4"},
 "encoding":{"x":{"datum":206.9,"type":"quantitative"},"y":{"datum":53.33,"type":"quantitative"}}},
{"data":{"values":[{}]},"mark":{"type":"text","fontSize":9.5,"fill":"#131722","align":"left","baseline":"middle"},
 "encoding":{"x":{"datum":204.6,"type":"quantitative"},"y":{"datum":53.33,"type":"quantitative"},"text":{"value":"53.33"}}}
]}
]
}
